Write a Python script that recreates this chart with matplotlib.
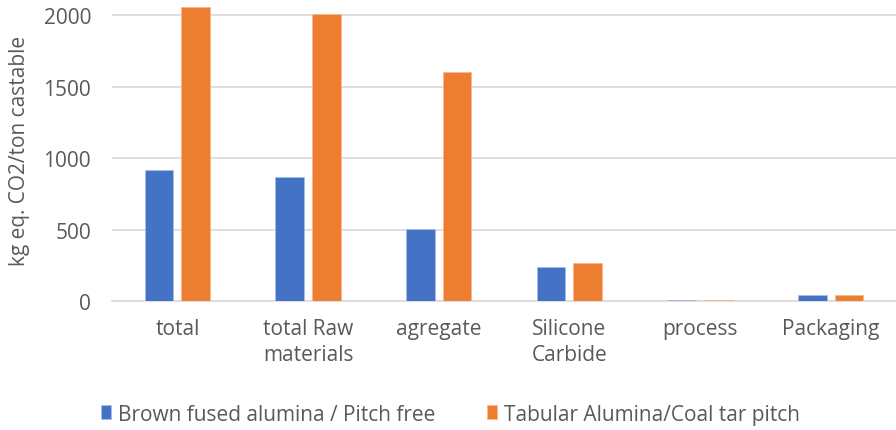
import matplotlib.pyplot as plt
import numpy as np

categories = ["total", "total Raw\nmaterials", "agregate", "Silicone\nCarbide", "process", "Packaging"]
brown_fused = [916, 867, 503, 236, 5, 40]
tabular = [2056, 2007, 1601, 266, 5, 40]
series_names = ["Brown fused alumina / Pitch free", "Tabular Alumina/Coal tar pitch"]

plt.rcParams['font.family'] = ['Open Sans', 'DejaVu Sans']
text_color = '#595959'
fs = 15

fig = plt.figure(figsize=(8.96, 4.31), dpi=100)
ax = fig.add_axes([0.125, 0.299, 0.875, 0.701])

x = np.arange(len(categories))
w = 0.22
b1 = ax.bar(x - 0.14, brown_fused, w, color='#4472C4', edgecolor='#a9bde6', linewidth=0.6, zorder=3)
b2 = ax.bar(x + 0.14, tabular, w, color='#ED7D31', edgecolor='#f5b88f', linewidth=0.6, zorder=3)

ax.set_xlim(-0.5, 5.5)
ax.set_ylim(0, 2112)
ax.set_yticks([0, 500, 1000, 1500, 2000])
ax.set_xticks(x)
ax.set_xticklabels(categories, linespacing=1.35)
ax.yaxis.grid(True, color='#d9d9d9', linewidth=1.2, zorder=0)
ax.set_axisbelow(True)
for s in ['top', 'right', 'left']:
    ax.spines[s].set_visible(False)
ax.spines['bottom'].set_color('#d9d9d9')
ax.spines['bottom'].set_linewidth(1.2)
ax.tick_params(axis='both', length=0, labelsize=fs, colors=text_color)
ax.tick_params(axis='y', pad=15)
ax.tick_params(axis='x', pad=12)
ax.set_ylabel("kg eq. CO2/ton castable", fontsize=fs, color=text_color, labelpad=10)
ax.yaxis.set_label_coords(-0.105, 0.5)

fig.legend([b1, b2], series_names, loc='center', bbox_to_anchor=(0.503, 0.037), ncol=2,
           frameon=False, fontsize=fs, labelcolor=text_color, handlelength=0.45, handleheight=0.65,
           handletextpad=0.35, columnspacing=2.5, borderpad=0, borderaxespad=0)

fig.savefig("out.png", dpi=100)
